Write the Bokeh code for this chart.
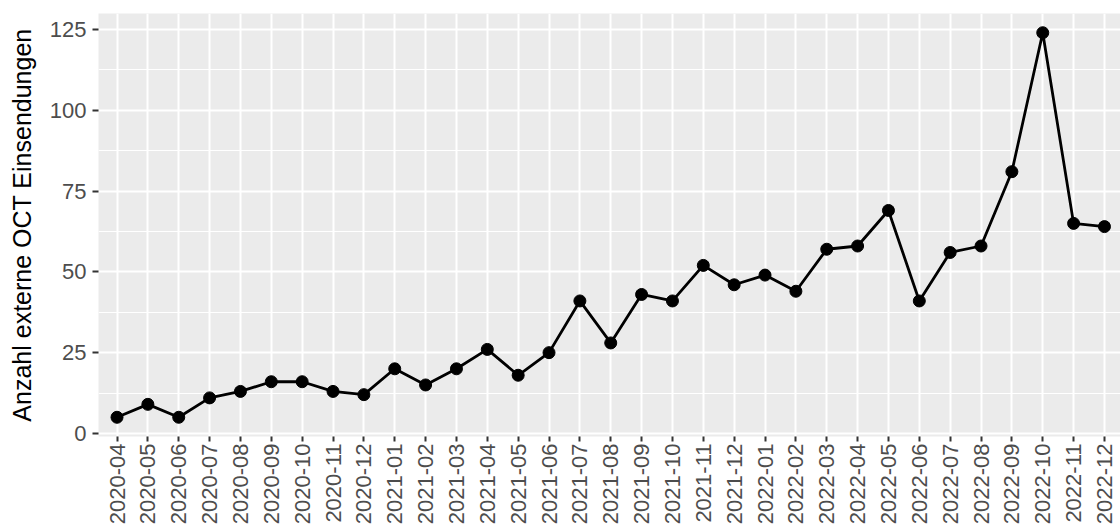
import math
from bokeh.plotting import figure
from bokeh.models import ColumnDataSource, Range1d, FixedTicker, SingleIntervalTicker
from bokeh.embed import file_html
from bokeh.resources import INLINE

months = [
    "2020-04", "2020-05", "2020-06", "2020-07", "2020-08", "2020-09", "2020-10",
    "2020-11", "2020-12", "2021-01", "2021-02", "2021-03", "2021-04", "2021-05",
    "2021-06", "2021-07", "2021-08", "2021-09", "2021-10", "2021-11", "2021-12",
    "2022-01", "2022-02", "2022-03", "2022-04", "2022-05", "2022-06", "2022-07",
    "2022-08", "2022-09", "2022-10", "2022-11", "2022-12",
]
counts = [
    5, 9, 5, 11, 13, 16, 16, 13, 12, 20, 15, 20, 26, 18, 25, 41, 28, 43, 41, 52,
    46, 49, 44, 57, 58, 69, 41, 56, 58, 81, 124, 65, 64,
]
y_title = "Anzahl externe OCT Einsendungen"

idx = list(range(len(months)))
src = ColumnDataSource(dict(x=idx, y=counts, month=months))

FONT = "Liberation Sans"

p = figure(
    width=1120, height=528, output_backend="svg", toolbar_location=None,
    x_range=Range1d(-0.6, 32.52), y_range=Range1d(-0.95, 129.95),
    min_border_left=98, min_border_right=0, min_border_top=13, min_border_bottom=92,
)
p.background_fill_color = "#EBEBEB"
p.border_fill_color = "white"
p.outline_line_color = None

# grids
p.xgrid.ticker = FixedTicker(ticks=idx)
p.xgrid.grid_line_color = "white"
p.xgrid.grid_line_width = 2
p.ygrid.grid_line_color = "white"
p.ygrid.grid_line_width = 2
p.ygrid.minor_grid_line_color = "white"
p.ygrid.minor_grid_line_width = 1

# x axis
p.xaxis.ticker = FixedTicker(ticks=idx)
p.xaxis.major_label_overrides = {i: m for i, m in zip(idx, months)}
p.xaxis.major_label_orientation = math.pi / 2
p.xaxis.axis_line_color = None
p.xaxis.major_tick_line_color = "#333333"
p.xaxis.major_tick_line_width = 2
p.xaxis.major_tick_out = 5
p.xaxis.major_tick_in = 0
p.xaxis.minor_tick_line_color = None
p.xaxis.major_label_text_font = FONT
p.xaxis.major_label_text_font_size = "22px"
p.xaxis.major_label_text_color = "#4D4D4D"
p.xaxis.major_label_standoff = 2

# y axis
yt = SingleIntervalTicker(interval=25, num_minor_ticks=2)
p.yaxis.ticker = yt
p.ygrid.ticker = yt
p.yaxis.axis_line_color = None
p.yaxis.major_tick_line_color = "#333333"
p.yaxis.major_tick_line_width = 2
p.yaxis.major_tick_out = 6
p.yaxis.major_tick_in = 0
p.yaxis.minor_tick_line_color = None
p.yaxis.major_label_text_font = FONT
p.yaxis.major_label_text_font_size = "22px"
p.yaxis.major_label_text_color = "#4D4D4D"
p.yaxis.major_label_standoff = 6
p.yaxis.axis_label = y_title
p.yaxis.axis_label_text_font = FONT
p.yaxis.axis_label_text_font_size = "25px"
p.yaxis.axis_label_text_font_style = "normal"
p.yaxis.axis_label_text_color = "black"
p.yaxis.axis_label_standoff = 11

p.line("x", "y", source=src, line_color="black", line_width=2.8)
p.scatter("x", "y", source=src, size=12, fill_color="black", line_color="black")

open("out.html", "w").write(file_html(p, INLINE))
